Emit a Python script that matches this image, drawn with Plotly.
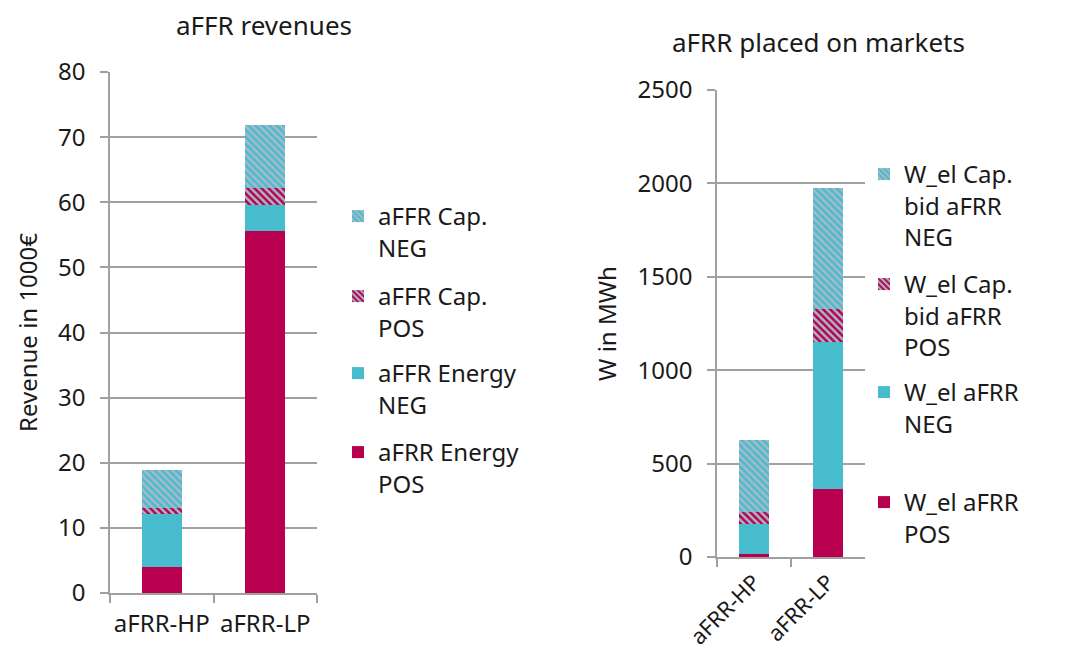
import plotly.graph_objects as go

categories = ["aFRR-HP", "aFRR-LP"]

# Left chart: revenues in 1000€
rev_energy_pos = [4.0, 55.6]
rev_energy_neg = [8.1, 4.0]
rev_cap_pos = [1.0, 2.6]
rev_cap_neg = [5.8, 9.6]

# Right chart: energy placed in MWh
w_pos = [16, 364]
w_neg = [161, 789]
w_cap_pos = [64, 173]
w_cap_neg = [385, 648]

left_names = ["aFRR Energy<br>POS", "aFFR Energy<br>NEG", "aFFR Cap.<br>POS", "aFFR Cap.<br>NEG"]
right_names = ["W_el aFRR<br>POS", "W_el aFRR<br>NEG", "W_el Cap.<br>bid aFRR<br>POS", "W_el Cap.<br>bid aFRR<br>NEG"]

MAG = "#b8004f"
CYAN = "#47bccc"
GRAY = "#a7b9c8"
GRID = "#a0a0a0"
FONT = "Noto Sans"
TXT = "#1a1a1a"

# page body has an 8px margin; work in reference pixel coords
OFF = 8
W, H = 1065, 649
def px(x):
    return (x - OFF) / W
def py(y):
    return 1 - (y - OFF) / H

fig = go.Figure()

def styles():
    return [
        dict(color=MAG),
        dict(color=CYAN),
        dict(color=GRAY, pattern=dict(shape="\\", fgcolor=MAG, bgcolor=GRAY, size=5, solidity=0.5, fillmode="replace")),
        dict(color=GRAY, pattern=dict(shape="\\", fgcolor=CYAN, bgcolor=GRAY, size=5, solidity=0.5, fillmode="replace")),
    ]

left_vals = [rev_energy_pos, rev_energy_neg, rev_cap_pos, rev_cap_neg]
right_vals = [w_pos, w_neg, w_cap_pos, w_cap_neg]

# legend first-line centres (reference px)
left_leg_y = [453, 374, 297, 217]
right_leg_y = [503, 393, 285, 175]

legends = {}
for i, (name, vals, st) in enumerate(zip(left_names, left_vals, styles())):
    lname = "legend" if i == 0 else "legend%d" % (i + 1)
    fig.add_trace(go.Bar(x=categories, y=vals, name=name, marker=dict(**st, line=dict(width=0)),
                         width=0.39, xaxis="x", yaxis="y", legend=lname, showlegend=True))
    legends[lname] = dict(x=px(379 - 41), y=py(left_leg_y[i] - 23), xanchor="left", yanchor="top",
                          font=dict(size=24), itemwidth=30, valign="top", bgcolor="rgba(0,0,0,0)",
                          visible=True)
for i, (name, vals, st) in enumerate(zip(right_names, right_vals, styles())):
    lname = "legend%d" % (i + 5)
    fig.add_trace(go.Bar(x=categories, y=vals, name=name, marker=dict(**st, line=dict(width=0)),
                         width=0.4, xaxis="x2", yaxis="y2", legend=lname, showlegend=True))
    legends[lname] = dict(x=px(905 - 41), y=py(right_leg_y[i] - 23), xanchor="left", yanchor="top",
                          font=dict(size=24), itemwidth=30, valign="top", bgcolor="rgba(0,0,0,0)",
                          visible=True)

axis_common = dict(showline=True, linecolor=GRID, linewidth=1.5, ticks="outside", tickcolor=GRID,
                   tickwidth=1.5, automargin=False)
tf = dict(size=24, color=TXT, family=FONT)

fig.update_layout(
    width=W, height=H, barmode="stack", showlegend=True,
    margin=dict(l=0, r=0, t=0, b=0),
    paper_bgcolor="white", plot_bgcolor="white",
    font=dict(family=FONT, size=24, color=TXT),
    xaxis=dict(domain=[px(110), px(317)], anchor="y", type="category", tickson="boundaries",
               ticklen=8, ticklabelstandoff=8, tickangle=0, showgrid=False, tickfont=tf,
               **axis_common),
    yaxis=dict(domain=[py(593), py(72)], anchor="x", range=[0, 80], dtick=10,
               ticklen=8, ticklabelstandoff=10, showgrid=True, gridcolor=GRID, gridwidth=1.5,
               zeroline=False, tickfont=tf,
               title=dict(text="Revenue in 1000€", font=dict(size=24), standoff=14), **axis_common),
    xaxis2=dict(domain=[px(717), px(865)], anchor="y2", type="category", tickson="boundaries",
                ticklen=8, ticklabelstandoff=2, showgrid=False, tickangle=-45,
                tickfont=dict(size=22, color=TXT, family=FONT), **axis_common),
    yaxis2=dict(domain=[py(557), py(90)], anchor="x2", range=[0, 2500], dtick=500,
                ticklen=8, ticklabelstandoff=10, showgrid=True, gridcolor=GRID, gridwidth=1.5,
                zeroline=False, tickfont=tf,
                title=dict(text="W in MWh", font=dict(size=24), standoff=14), **axis_common),
    annotations=[
        dict(text="aFFR revenues", x=px(264), y=py(25), xref="paper", yref="paper",
             showarrow=False, font=dict(size=26), xanchor="center", yanchor="middle"),
        dict(text="aFRR placed on markets", x=px(818), y=py(42), xref="paper", yref="paper",
             showarrow=False, font=dict(size=26), xanchor="center", yanchor="middle"),
    ],
    **legends,
)

fig.write_html("out.html")
